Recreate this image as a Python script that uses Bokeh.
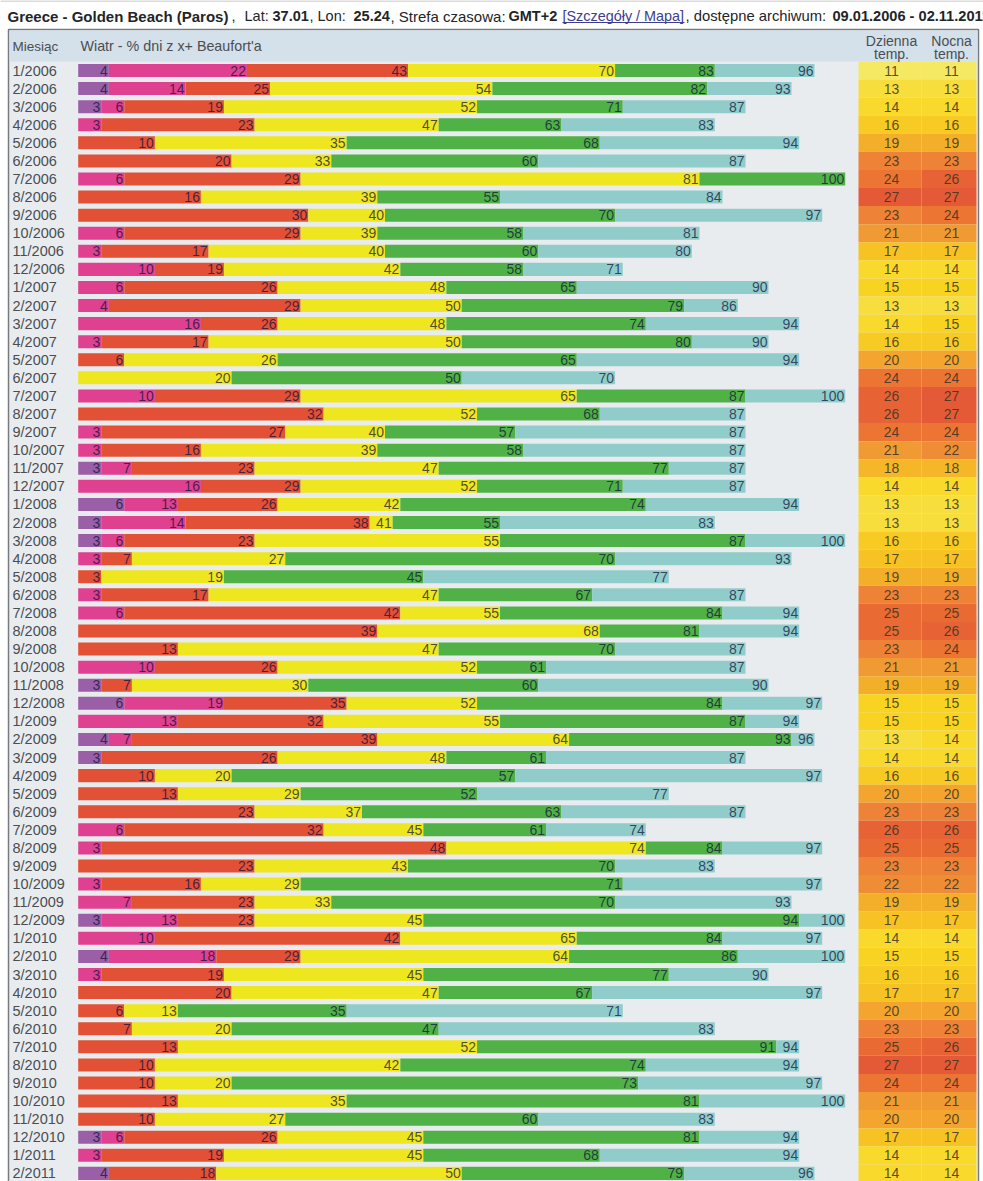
from bokeh.plotting import figure
from bokeh.models import ColumnDataSource, Range1d
from bokeh.core.properties import value
from bokeh.embed import file_html
from bokeh.resources import INLINE

months = ["1/2006","2/2006","3/2006","4/2006","5/2006","6/2006","7/2006","8/2006","9/2006","10/2006","11/2006","12/2006",
          "1/2007","2/2007","3/2007","4/2007","5/2007","6/2007","7/2007","8/2007","9/2007","10/2007","11/2007","12/2007",
          "1/2008","2/2008","3/2008","4/2008","5/2008","6/2008","7/2008","8/2008","9/2008","10/2008","11/2008","12/2008",
          "1/2009","2/2009","3/2009","4/2009","5/2009","6/2009","7/2009","8/2009","9/2009","10/2009","11/2009","12/2009",
          "1/2010","2/2010","3/2010","4/2010","5/2010","6/2010","7/2010","8/2010","9/2010","10/2010","11/2010","12/2010",
          "1/2011","2/2011"]

# Cumulative % of days at x+ Beaufort; 0 = the band is absent in that month
purple = [4,4,3,0,0,0,0,0,0,0,0,0,
          0,0,0,0,0,0,0,0,0,0,3,0,
          6,3,3,0,0,0,0,0,0,0,3,6,
          0,4,3,0,0,0,0,0,0,0,0,3,
          0,4,0,0,0,0,0,0,0,0,0,3,
          0,4]
magenta = [22,14,6,3,0,0,6,0,0,6,3,10,
           6,4,16,3,0,0,10,0,3,3,7,16,
           13,14,6,3,0,3,6,0,0,10,0,19,
           13,7,0,0,0,0,6,3,0,3,7,13,
           10,18,3,0,0,0,0,0,0,0,0,6,
           3,0]
red = [43,25,19,23,10,20,29,16,30,29,17,19,
       26,29,26,17,6,0,29,32,27,16,23,29,
       26,38,23,7,3,17,42,39,13,26,7,35,
       32,39,26,10,13,23,32,48,23,16,23,23,
       42,29,19,20,6,7,13,10,10,13,10,26,
       19,18]
yellow = [70,54,52,47,35,33,81,39,40,39,40,42,
          48,50,48,50,26,20,65,52,40,39,47,52,
          42,41,55,27,19,47,55,68,47,52,30,52,
          55,64,48,20,29,37,45,74,43,29,33,45,
          65,64,45,47,13,20,52,42,20,35,27,45,
          45,50]
green = [83,82,71,63,68,60,100,55,70,58,60,58,
         65,79,74,80,65,50,87,68,57,58,77,71,
         74,55,87,70,45,67,84,81,70,61,60,84,
         87,93,61,57,52,63,61,84,70,71,70,94,
         84,86,77,67,35,47,91,74,73,81,60,81,
         68,79]
teal = [96,93,87,83,94,87,0,84,97,81,80,71,
        90,86,94,90,94,70,100,87,87,87,87,87,
        94,83,100,93,77,87,94,94,87,87,90,97,
        94,96,87,97,77,87,74,97,83,97,93,100,
        97,100,90,97,71,83,94,94,97,100,83,94,
        94,96]
day_temp = [11,13,14,16,19,23,24,27,23,21,17,14,
            15,13,14,16,20,24,26,26,24,21,18,14,
            13,13,16,17,19,23,25,25,23,21,19,15,
            15,13,14,16,20,23,26,25,23,22,19,17,
            14,15,16,17,20,23,25,27,24,21,20,17,
            14,14]
night_temp = [11,13,14,16,19,23,26,27,24,21,17,14,
              15,13,15,16,20,24,27,27,24,22,18,14,
              13,13,16,17,19,23,25,26,24,21,19,15,
              15,14,14,16,20,23,26,25,23,22,19,17,
              14,15,16,17,20,23,26,27,24,21,20,17,
              14,14]

series = [("purple", purple, "#9a5fa6"), ("magenta", magenta, "#df408f"), ("red", red, "#e25135"),
          ("yellow", yellow, "#eee61f"), ("green", green, "#50b147"), ("teal", teal, "#90cdca")]

temp_colors = {11:"#f5e862",13:"#f7de3c",14:"#f9d92c",15:"#f9d322",16:"#f8ca24",17:"#f6c224",18:"#f5b728",
               19:"#f4af2a",20:"#f3a52f",21:"#f09a33",22:"#ef8d36",23:"#ee8236",24:"#ec7534",25:"#e96a33",
               26:"#e76235",27:"#e55a36"}

W, H = 983, 1181
PAGE = 0                # the page shows the figure at its top-left corner
X0, XS = 77.7, 7.67     # page px of 0 %, px per 1 %
Y0, YS = 70.0, 18.08    # page px of first row centre, px per row

def dx(px):  # page px -> x data
    return (px - X0) / XS
def dy(px):  # page py -> y data
    return (px - Y0) / YS

p = figure(width=W, height=H, output_backend="svg", toolbar_location=None,
           x_range=Range1d(dx(PAGE), dx(PAGE + W)), y_range=Range1d(dy(PAGE + H), dy(PAGE)),
           x_axis_type=None, y_axis_type=None, min_border=0, outline_line_color=None,
           background_fill_color="white", border_fill_color="white")
p.grid.visible = False

FONT = value("Liberation Sans")
n = len(months)
rows = list(range(n))
BG, HEAD, BORDER = "#e9ecef", "#d4e0ea", "#777b80"

# table chrome
p.quad(left=[dx(8)], right=[dx(978)], top=[dy(29)], bottom=[dy(1190)], fill_color=BG,
       line_color=BORDER, line_width=1.5)
p.quad(left=[dx(9)], right=[dx(977)], top=[dy(30)], bottom=[dy(61)], fill_color=HEAD, line_color=None)
p.segment(x0=[dx(0)], x1=[dx(983)], y0=[dy(0.5)], y1=[dy(0.5)], line_color="#b8b8b8", line_width=1)

# wind bars
prev = [0] * n
for name, vals, col in series:
    idx = [i for i in rows if vals[i] > 0]
    src = ColumnDataSource(dict(y=idx, left=[prev[i] for i in idx], right=[vals[i] for i in idx]))
    p.hbar(y="y", left="left", right="right", height=0.72, fill_color=col, line_color=None, source=src)
    for i in idx:
        prev[i] = vals[i]

for name, vals, col in series:
    idx = [i for i in rows if vals[i] > 0]
    src = ColumnDataSource(dict(y=idx, x=[vals[i] for i in idx], label=[str(vals[i]) for i in idx]))
    p.text(x="x", y="y", text="label", source=src, x_offset=-1, text_align="right", text_baseline="middle",
           text_font=FONT, text_font_size="14px", text_color="#10103a", text_alpha=0.74)

# temperature cells
COL_L, COL_M, COL_R = dx(858), dx(921), dx(976)
DAY_X, NIGHT_X = dx(891), dx(951)
p.quad(left=[COL_L]*n, right=[COL_M]*n, top=[i-0.5 for i in rows], bottom=[i+0.5 for i in rows],
       fill_color=[temp_colors[t] for t in day_temp], line_color=None)
p.quad(left=[COL_M]*n, right=[COL_R]*n, top=[i-0.5 for i in rows], bottom=[i+0.5 for i in rows],
       fill_color=[temp_colors[t] for t in night_temp], line_color=None)
for xc, vals in ((DAY_X, day_temp), (NIGHT_X, night_temp)):
    p.text(x=[xc]*n, y=rows, text=[str(v) for v in vals], text_align="center", text_baseline="middle",
           text_font=FONT, text_font_size="14px", text_color="#3a3320", text_alpha=0.85)

# month labels
p.text(x=[dx(12)]*n, y=rows, text=months, text_align="left", text_baseline="middle",
       text_font=FONT, text_font_size="14.5px", text_color="#4a4e52")

# header
def label(px, py, txt, size="12.5px", align="left", color="#4a4e52", style="normal"):
    p.text(x=[dx(px)], y=[dy(py)], text=[txt], text_align=align, text_baseline="middle", text_font=FONT,
           text_font_size=size, text_color=color, text_font_style=style)

label(12, 45.5, "Miesiąc", size="13.5px")
label(80, 45.5, "Wiatr - % dni z x+ Beaufort'a", size="14.3px")
label(891, 40.5, "Dzienna", size="14px", align="center")
label(891, 53, "temp.", size="14px", align="center")
label(951, 40.5, "Nocna", size="14px", align="center")
label(951, 53, "temp.", size="14px", align="center")

# title line
TY = 15.5
T = "#222528"
label(7, TY, "Greece - Golden Beach (Paros)", size="15px", color=T, style="bold")
label(231, TY, ",", size="14.5px", color=T)
label(244, TY, "Lat:", size="14.5px", color=T)
label(272, TY, "37.01", size="14.5px", color=T, style="bold")
label(309, TY, ", Lon:", size="14.5px", color=T)
label(353, TY, "25.24", size="14.5px", color=T, style="bold")
label(390, TY, ", Strefa czasowa:", size="15px", color=T)
label(508, TY, "GMT+2", size="14.5px", color=T, style="bold")
label(562, TY, "[Szczegóły / Mapa]", size="14.4px", color="#3d3d8f")
p.segment(x0=[dx(562)], x1=[dx(684)], y0=[dy(22)], y1=[dy(22)], line_color="#3d3d8f", line_width=1)
label(685, TY, ", dostępne archiwum:", size="14.8px", color=T)
label(832, TY, "09.01.2006 - 02.11.2011", size="14.6px", color=T, style="bold")

open("out.html", "w").write(file_html(p, INLINE))
